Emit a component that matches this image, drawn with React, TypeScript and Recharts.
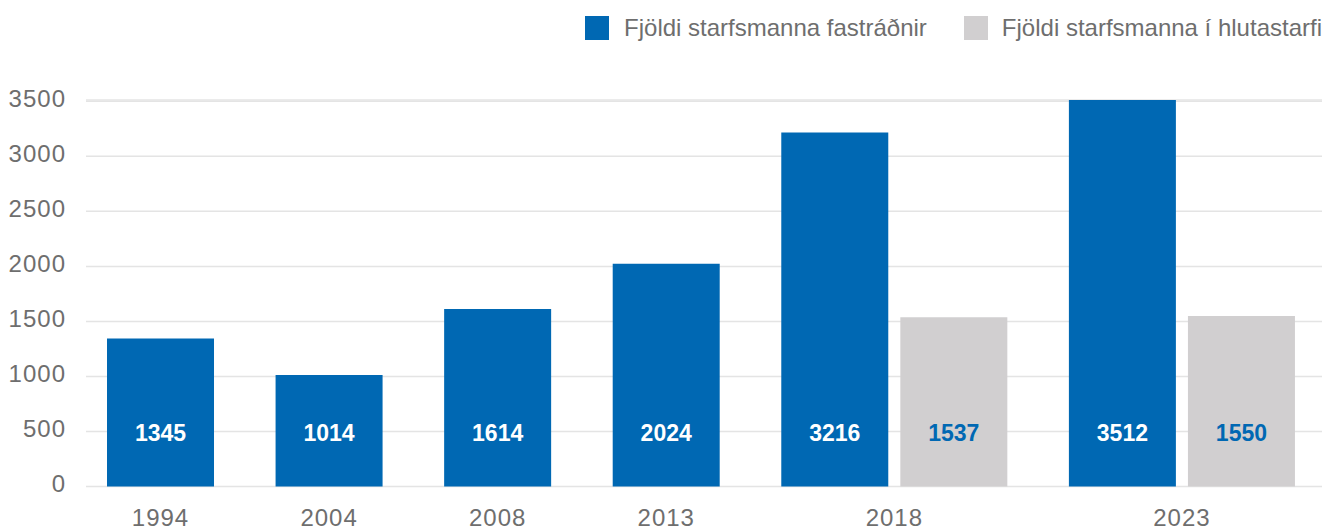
import React from "react";
import { BarChart, Bar, XAxis, YAxis, CartesianGrid, Legend, Cell, LabelList } from "recharts";

const years = ["1994", "2004", "2008", "2013", "2018", "2023"];
const fastradnir = [1345, 1014, 1614, 2024, 3216, 3512];
const hlutastarf: (number | null)[] = [null, null, null, null, 1537, 1550];
const yTicks = [0, 500, 1000, 1500, 2000, 2500, 3000, 3500];

const BLUE = "#0068b3";
const GRAY = "#d1cfd0";
const TEXT = "#6e6e6e";

// group layout (in plot pixels)
const BAR = 107;
const INNER = 12;
const GROUP_GAP = 61.5;
const PAD_L = 21;
const PAD_R = 27;

type Row = { pos: number; value: number; kind: "fast" | "hluta" };

const rows: Row[] = [];
const groupCenters: number[] = [];
let cursor = PAD_L;
years.forEach((_, i) => {
  const start = cursor;
  const vals: [number | null, Row["kind"]][] = [
    [fastradnir[i], "fast"],
    [hlutastarf[i], "hluta"],
  ];
  let end = start;
  vals.forEach(([v, kind]) => {
    if (v == null) return;
    rows.push({ pos: cursor + BAR / 2, value: v, kind });
    end = cursor + BAR;
    cursor += BAR + INNER;
  });
  groupCenters.push((start + end) / 2);
  cursor = end + GROUP_GAP;
});
const xMax = cursor - GROUP_GAP + PAD_R;

const yearAt = (v: number) => {
  const i = groupCenters.findIndex((c) => Math.abs(c - v) < 1);
  return i >= 0 ? years[i] : "";
};

const renderLegend = () => (
  <div
    style={{
      display: "flex",
      justifyContent: "flex-end",
      alignItems: "center",
      fontSize: 24,
      color: TEXT,
      height: 24,
    }}
  >
    <span style={{ width: 24, height: 24, background: BLUE, display: "inline-block", marginRight: 15 }} />
    <span style={{ marginRight: 37 }}>Fjöldi starfsmanna fastráðnir</span>
    <span style={{ width: 24, height: 24, background: GRAY, display: "inline-block", marginRight: 14 }} />
    <span>Fjöldi starfsmanna í hlutastarfi</span>
  </div>
);

const renderValue = (props: any) => {
  const { x, y, width, height, value, index } = props;
  const kind = rows[index]?.kind;
  return (
    <text
      x={x + width / 2}
      y={y + height - 53.5}
      textAnchor="middle"
      dominantBaseline="central"
      fontSize={23}
      fontWeight="bold"
      fill={kind === "fast" ? "#ffffff" : BLUE}
    >
      {value}
    </text>
  );
};

export default function App() {
  return (
    <div
      style={{
        position: "absolute",
        top: 0,
        left: 0,
        width: 1325,
        height: 532,
        fontFamily: "'Liberation Sans', Arial, sans-serif",
        background: "#fff",
      }}
    >
      <BarChart width={1325} height={532} data={rows} margin={{ top: 100, right: 3, left: 0, bottom: 0 }}>
        <CartesianGrid vertical={false} stroke="#e4e4e4" strokeWidth={1.5} />
        <XAxis
          dataKey="pos"
          type="number"
          domain={[0, xMax]}
          ticks={groupCenters}
          tickFormatter={yearAt}
          axisLine={false}
          tickLine={false}
          tickSize={0}
          tickMargin={22}
          height={45.5}
          tick={{ fill: TEXT, fontSize: 24, letterSpacing: 1 }}
          interval={0}
        />
        <YAxis
          type="number"
          domain={[0, "dataMax"]}
          ticks={yTicks}
          axisLine={false}
          tickLine={false}
          tickSize={0}
          tickMargin={20}
          width={86}
          interval={0}
          tick={{ fill: TEXT, fontSize: 24, letterSpacing: 1, dy: -3 }}
        />
        <Legend
          layout="horizontal"
          verticalAlign="middle"
          align="center"
          wrapperStyle={{ top: 16, left: 0, width: 1322 }}
          content={renderLegend}
        />
        <Bar dataKey="value" barSize={BAR} isAnimationActive={false}>
          {rows.map((r, i) => (
            <Cell key={i} fill={r.kind === "fast" ? BLUE : GRAY} />
          ))}
          <LabelList dataKey="value" content={renderValue} />
        </Bar>
      </BarChart>
    </div>
  );
}
